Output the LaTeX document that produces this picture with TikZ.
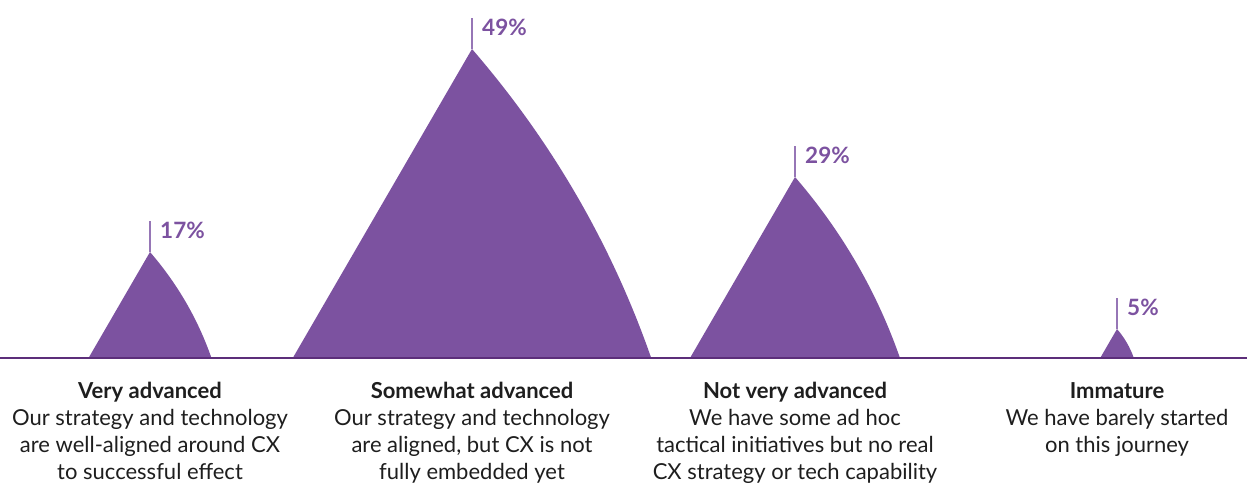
\documentclass[tikz,border=0pt]{standalone}
\usepackage{fontspec}
\setmainfont{Lato}
\definecolor{finpurple}{RGB}{124,82,160}
\definecolor{tickpurple}{RGB}{150,118,182}
\definecolor{basepurple}{RGB}{92,46,122}
\definecolor{bodytext}{RGB}{30,30,30}
\tikzset{
  fin/.style={fill=finpurple},
  tickline/.style={draw=tickpurple, line width=1.2pt},
  pctlabel/.style={anchor=north west, inner sep=0pt, text=finpurple,
    font=\fontsize{22.5}{26}\selectfont\bfseries},
  caption/.style={anchor=north, inner sep=0pt, align=center, text=bodytext,
    font=\fontsize{22}{27}\selectfont}
}
\begin{document}
\begin{tikzpicture}[x=1pt, y=-1pt]
    \useasboundingbox (0,0) rectangle (1247,483);
    % baseline
    \coordinate (b0) at (0,358);
    \coordinate (b1) at (1247,358);
    % fins with tick and percentage
    \foreach \px/\py/\pct [count=\i] in {150/252/17, 472/49/49, 795/177/29, 1117/329/5} {
      \pgfmathsetmacro\h{358-\py}
      \pgfmathsetmacro\w{0.58*\h}
      \coordinate (pk\i) at (\px,\py);
      \coordinate (tk\i) at (\px,\py-31);
      \fill[fin] ({\px-\w},358) -- (pk\i)
        .. controls ({\px+0.444*\w},{\py+0.298*\h}) and ({\px+0.778*\w},{\py+0.631*\h})
        .. ({\px+\w},358) -- cycle;
      \draw[tickline] (pk\i) -- (tk\i);
      \node[pctlabel] (pc\i) at ([xshift=10pt, yshift=-1pt]tk\i) {\pct\%};
    }
    \draw[draw=basepurple, line width=1.5pt] (b0) -- (b1);
    % captions
    \node[caption] (cap1) at (150,382) {\textbf{Very advanced}\\Our strategy and technology\\are well-aligned around CX\\to successful effect};
    \node[caption] (cap2) at (472,382) {\textbf{Somewhat advanced}\\Our strategy and technology\\are aligned, but CX is not\\fully embedded yet};
    \node[caption] (cap3) at (795,382) {\textbf{Not very advanced}\\We have some ad hoc\\tactical initiatives but no real\\CX strategy or tech capability};
    \node[caption] (cap4) at (1117,382) {\textbf{Immature}\\We have barely started\\on this journey};
\end{tikzpicture}
\end{document}
